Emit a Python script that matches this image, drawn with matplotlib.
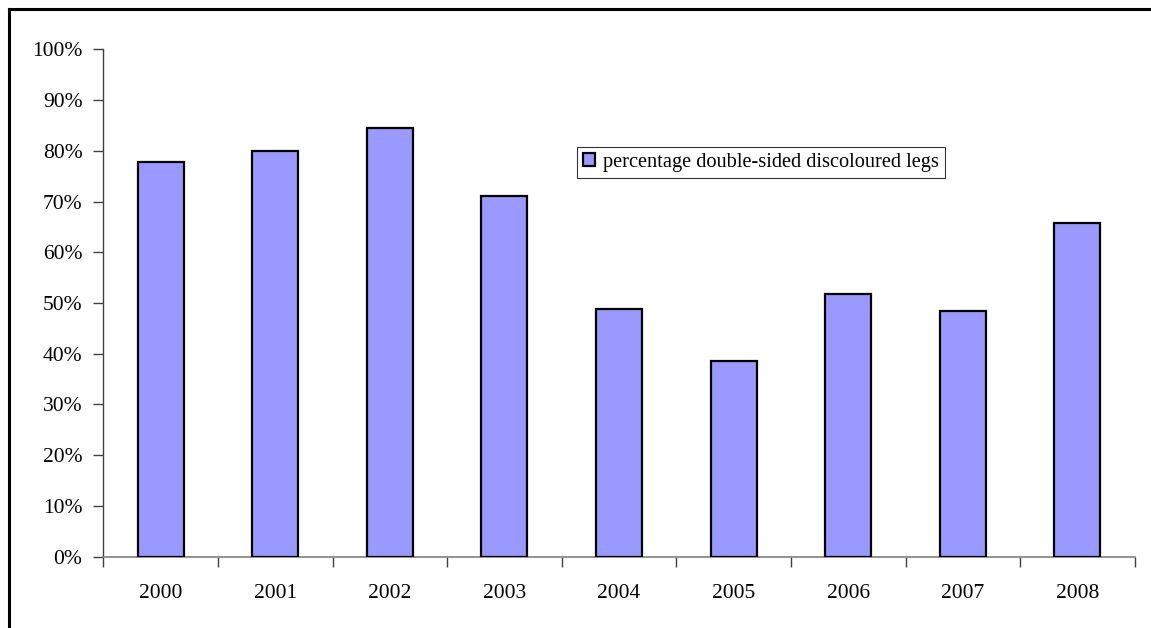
import matplotlib
matplotlib.use("Agg")
import matplotlib.pyplot as plt
from matplotlib.lines import Line2D
from matplotlib.ticker import FuncFormatter, FixedLocator
import numpy as np

years = ["2000", "2001", "2002", "2003", "2004", "2005", "2006", "2007", "2008"]
pct_double_sided = [77.7, 80.0, 84.4, 71.0, 48.8, 38.5, 51.8, 48.5, 65.8]
series_label = "percentage double-sided discoloured legs"
y_ticks = [0, 10, 20, 30, 40, 50, 60, 70, 80, 90, 100]

plt.rcParams["font.family"] = ["Liberation Serif", "DejaVu Serif"]
FS = 15.5
LEG_FS = 14.7

fig = plt.figure(figsize=(11.51, 6.28), dpi=100)
ax = fig.add_axes([103.3 / 1151, 1 - 556.7 / 628, (1134.7 - 103.3) / 1151, (556.7 - 49.3) / 628])

x = np.arange(len(years))
ax.bar(x, pct_double_sided, width=0.4, color="#9999FF", edgecolor="black",
       linewidth=1.6, label=series_label, zorder=3)

ax.set_xlim(-0.5, len(years) - 0.5)
ax.set_ylim(0, 100)

# y axis: percent ticks pointing outward
ax.yaxis.set_major_locator(FixedLocator(y_ticks))
ax.yaxis.set_major_formatter(FuncFormatter(lambda v, p: f"{int(v)}%"))
ax.tick_params(axis="y", direction="out", length=7, width=1, color="#404040",
               labelsize=FS, pad=8)

# x axis: ticks at category boundaries, labels centered on categories
ax.set_xticks(np.arange(-0.5, len(years)), minor=False)
ax.set_xticklabels([""] * (len(years) + 1))
ax.set_xticks(x, minor=True)
ax.set_xticklabels(years, minor=True)
ax.tick_params(axis="x", which="major", direction="out", length=7, width=1, color="#404040")
ax.tick_params(axis="x", which="minor", length=0, labelsize=FS, pad=20)

for s in ["top", "right"]:
    ax.spines[s].set_visible(False)
ax.spines["left"].set_color("#404040")
ax.spines["bottom"].set_color("#808080")
ax.spines["left"].set_linewidth(1)
ax.spines["bottom"].set_linewidth(1.2)

leg = ax.legend(loc="upper left", bbox_to_anchor=((576.7 - 103.3) / 1031.4, (556.7 - 147) / 507.4),
                frameon=True, fancybox=False, fontsize=LEG_FS, handlelength=0.6, handleheight=0.6,
                handletextpad=0.4, borderpad=0.3, borderaxespad=0)
leg.get_frame().set_edgecolor("black")
leg.get_frame().set_linewidth(0.8)

# outer chart frame
fig.add_artist(Line2D([9 / 1151, 1.0], [1 - 8.5 / 628, 1 - 8.5 / 628], color="black", lw=2.2,
                      transform=fig.transFigure))
fig.add_artist(Line2D([9 / 1151, 9 / 1151], [0.0, 1 - 8.5 / 628], color="black", lw=2.2,
                      transform=fig.transFigure))

fig.savefig("out.png", dpi=100)
